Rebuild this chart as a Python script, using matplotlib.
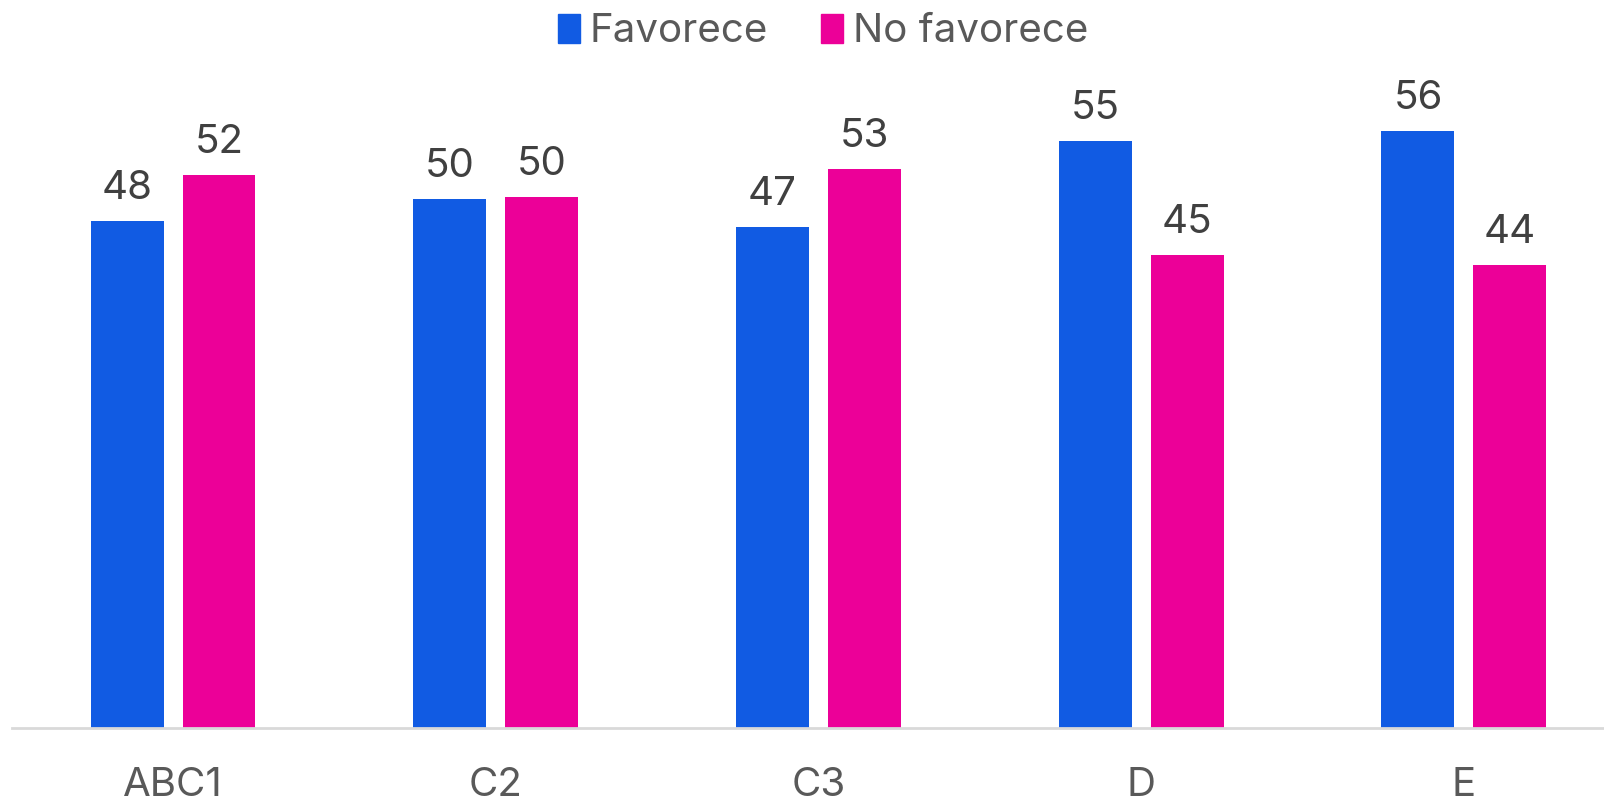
import matplotlib
matplotlib.use("Agg")
import matplotlib.pyplot as plt
import numpy as np
from matplotlib.patches import Patch

categories = ["ABC1", "C2", "C3", "D", "E"]
favorece = [47.8, 49.9, 47.3, 55.4, 56.3]
no_favorece = [52.2, 50.1, 52.7, 44.6, 43.7]
series_names = ["Favorece", "No favorece"]
colors = ["#115BE3", "#EC0098"]

plt.rcParams['font.family'] = ['Inter', 'DejaVu Sans']

W, H = 1604, 797
fig = plt.figure(figsize=(W / 100, H / 100), dpi=100)
left_px, base_px, top_px = 12, 728, 60
ax = fig.add_axes([left_px / W, (H - base_px) / H, 1 - left_px / W, (base_px - top_px) / H])

x = np.arange(len(categories))
bw = 0.226
off = 0.1425
b1 = ax.bar(x - off, favorece, bw, color=colors[0])
b2 = ax.bar(x + off, no_favorece, bw, color=colors[1])

for bars, vals in ((b1, favorece), (b2, no_favorece)):
    for r, v in zip(bars, vals):
        ax.annotate(f"{round(v):d}", (r.get_x() + r.get_width() / 2, r.get_height()),
                    xytext=(0, 15.8), textcoords="offset points", ha="center", va="baseline",
                    fontsize=29, color="#404040", annotation_clip=False)

ax.set_xlim(-0.499, 4.434)
ax.set_ylim(0, (base_px - top_px) / 10.6)
ax.set_xticks(x)
ax.set_xticklabels(categories, fontsize=29, color="#595959")
ax.tick_params(axis="x", length=0, pad=28)
ax.set_yticks([])
for s in ("top", "right", "left"):
    ax.spines[s].set_visible(False)
ax.spines["bottom"].set_color("#D9D9D9")
ax.spines["bottom"].set_linewidth(2)

handles = [Patch(color=c) for c in colors]
fig.legend(handles, series_names, loc="center", bbox_to_anchor=(0.513, 1 - 32 / H), ncol=2,
           frameon=False, fontsize=29, labelcolor="#595959", handlelength=0.55, handleheight=0.75,
           handletextpad=0.25, columnspacing=1.3, borderaxespad=0)

fig.savefig("out.png", dpi=100)
